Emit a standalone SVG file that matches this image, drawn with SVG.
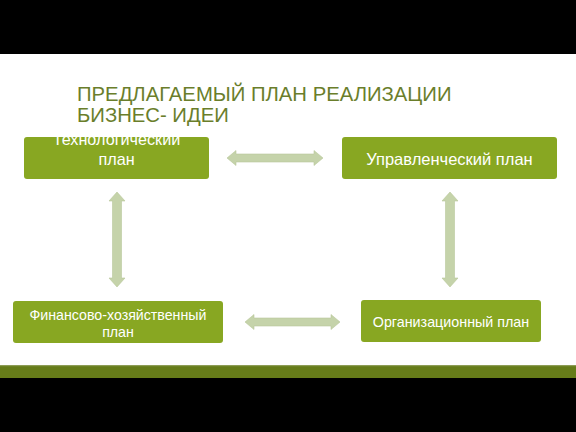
<svg xmlns="http://www.w3.org/2000/svg" width="576" height="432" viewBox="0 0 576 432">
<style>
.box{fill:#88a722;}
.lbl{font-family:"Liberation Sans",Arial,sans-serif;fill:#ffffff;text-anchor:middle;}
.title{font-family:"Liberation Sans",Arial,sans-serif;fill:#6a7e2b;font-size:20.3px;}
.arr{fill:#c5d3aa;stroke:#b8c79b;stroke-width:0.6;}
</style>
<rect x="0" y="0" width="576" height="432" fill="#ffffff"/>
<rect x="0" y="0" width="576" height="54" fill="#000000"/>
<rect x="0" y="365" width="576" height="13" fill="#667c19"/>
<rect x="0" y="365" width="576" height="1.2" fill="#8d9c55"/>
<rect x="0" y="378" width="576" height="54" fill="#000000"/>
<g id="title">
<text class="title" x="77" y="101">ПРЕДЛАГАЕМЫЙ ПЛАН РЕАЛИЗАЦИИ</text>
<text class="title" x="77" y="122">БИЗНЕС- ИДЕИ</text>
</g>
<g id="connectors">
<polygon class="arr" points="227,158 236,150.5 236,154 314,154 314,150.5 323,158 314,165.5 314,162 236,162 236,165.5"/>
<polygon class="arr" points="245,322 254,314.5 254,318 331,318 331,314.5 340,322 331,329.5 331,326 254,326 254,329.5"/>
<polygon class="arr" points="117,192 125,201 121.5,201 121.5,278 125,278 117,287 109,278 112.5,278 112.5,201 109,201"/>
<polygon class="arr" points="450,192 458,201 454.5,201 454.5,278 458,278 450,287 442,278 445.5,278 445.5,201 442,201"/>
</g>
<g id="node-tech">
<rect class="box" x="24" y="137" width="185" height="42" rx="3"/>
<text class="lbl" x="116.5" y="145" font-size="16.2">Технологический</text>
<text class="lbl" x="116.5" y="165" font-size="16.2">план</text>
</g>
<g id="node-upr">
<rect class="box" x="342" y="137" width="215" height="42" rx="3"/>
<text class="lbl" x="449.5" y="165" font-size="16.5">Управленческий план</text>
</g>
<g id="node-fin">
<rect class="box" x="13" y="301" width="210" height="42" rx="3"/>
<text class="lbl" x="118" y="320" font-size="14.2">Финансово-хозяйственный</text>
<text class="lbl" x="118" y="337" font-size="14.2">план</text>
</g>
<g id="node-org">
<rect class="box" x="361" y="300" width="180" height="42" rx="3"/>
<text class="lbl" x="451" y="327" font-size="14.3">Организационный план</text>
</g>
</svg>
